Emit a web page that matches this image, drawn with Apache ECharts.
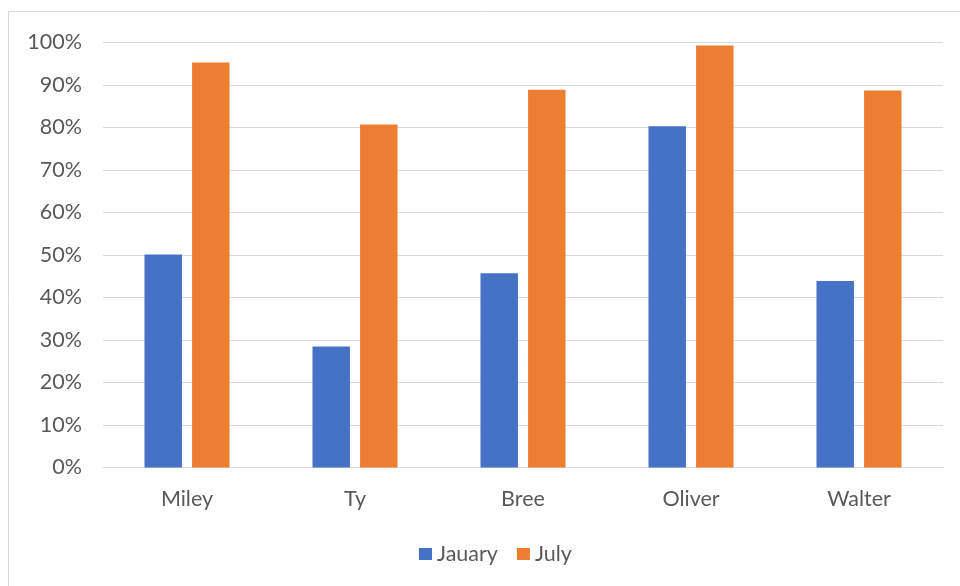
<!DOCTYPE html>
<html>
<head>
<meta charset="utf-8">
<script src="https://cdn.jsdelivr.net/npm/echarts@6/dist/echarts.min.js"></script>
<style>
  html, body { margin: 0; padding: 0; background: #fff; }
  #chart { width: 960px; height: 586px; }
</style>
</head>
<body>
<div id="chart"></div>
<script>
// Student names along the category axis
const names = ['Miley', 'Ty', 'Bree', 'Oliver', 'Walter'];
// Scores as percentages
const january = [50.1, 28.5, 45.7, 80.3, 43.9];
const july = [95.3, 80.7, 88.9, 99.3, 88.7];
// Series labels (as spelled in the legend)
const seriesNames = ['Jauary', 'July'];

const textColor = '#595959';
const gridColor = '#d9d9d9';
const font = 'Lato, "Open Sans", sans-serif';
const fontSize = 21.5;

const chart = echarts.init(document.getElementById('chart'), null, { renderer: 'canvas' });
chart.setOption({
  animation: false,
  backgroundColor: '#fff',
  color: ['#4472c4', '#ed7d31'],
  graphic: [{
    type: 'rect',
    shape: { x: 8.5, y: 11.5, width: 1000, height: 1000 },
    style: { fill: 'none', stroke: gridColor, lineWidth: 1 },
    silent: true
  }],
  grid: { left: 103, right: 17, top: 42.5, bottom: 118.5, containLabel: false },
  legend: {
    top: 538,
    left: 414,
    itemWidth: 13,
    itemHeight: 12,
    itemGap: 19,
    icon: 'rect',
    textStyle: { color: textColor, fontSize: fontSize, fontFamily: font },
    data: seriesNames
  },
  xAxis: {
    type: 'category',
    data: names,
    axisLine: { show: true, lineStyle: { color: gridColor, width: 1 } },
    axisTick: { show: false },
    axisLabel: { color: textColor, fontSize: fontSize, fontFamily: font, margin: 21 }
  },
  yAxis: {
    type: 'value',
    min: 0,
    max: 100,
    interval: 10,
    axisLine: { show: false },
    axisTick: { show: false },
    splitLine: { lineStyle: { color: gridColor, width: 1 } },
    axisLabel: { color: textColor, fontSize: fontSize, fontFamily: font, margin: 21, formatter: '{value}%' }
  },
  series: [
    { name: seriesNames[0], type: 'bar', data: january, barWidth: '22.3%', barGap: '27%' },
    { name: seriesNames[1], type: 'bar', data: july, barWidth: '22.3%', barGap: '27%' }
  ]
});
</script>
</body>
</html>
